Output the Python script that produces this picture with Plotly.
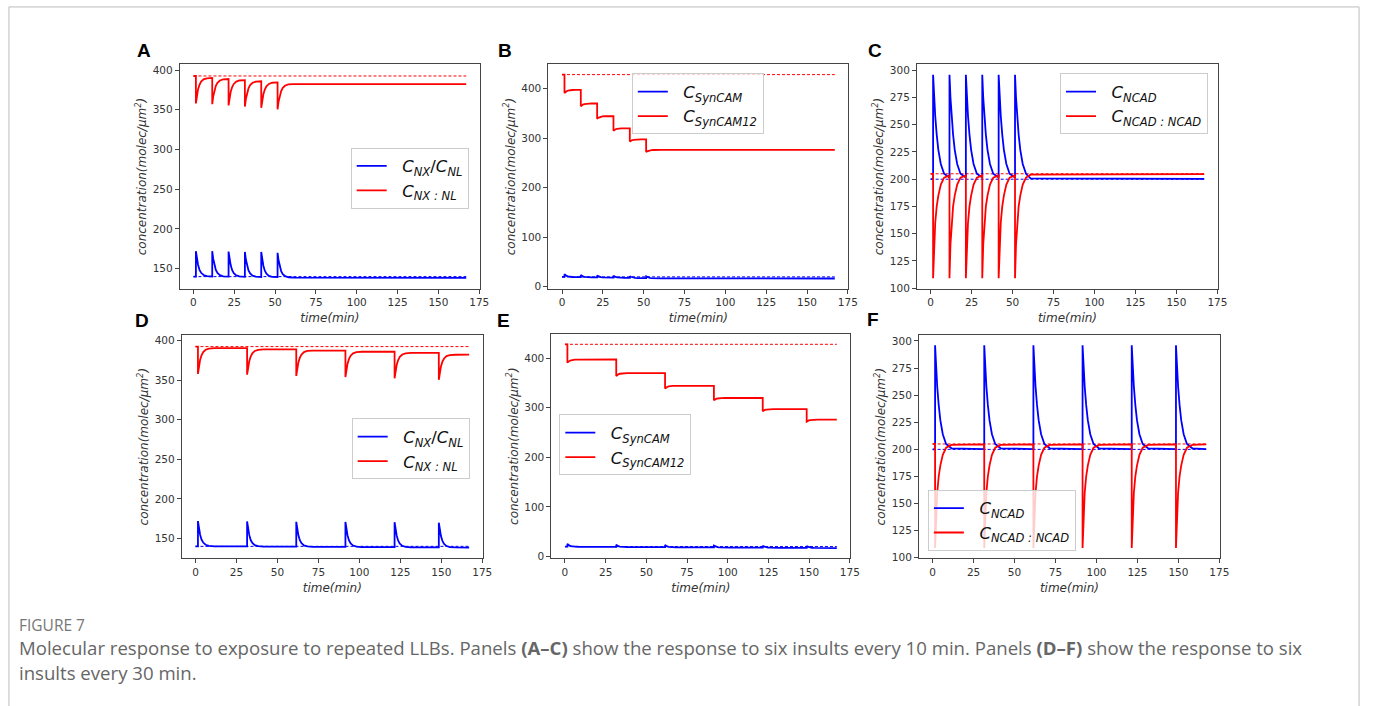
import plotly.graph_objects as go

W, H = 1375, 706

# ---------------- data ----------------
# time grid, top row (insults every 10 min)
t_top = [0,
         1.5, 1.5, 2.1, 2.8, 3.7, 4.7, 6.2, 8.2,
         11.5, 11.5, 12.1, 12.8, 13.7, 14.7, 16.2, 18.2,
         21.5, 21.5, 22.1, 22.8, 23.7, 24.7, 26.2, 28.2,
         31.5, 31.5, 32.1, 32.8, 33.7, 34.7, 36.2, 38.2,
         41.5, 41.5, 42.1, 42.8, 43.7, 44.7, 46.2, 48.2,
         51.5, 51.5, 52.1, 52.8, 53.7, 54.7, 56.2, 58.2, 61, 167]

# time grid, bottom row (insults every 30 min)
t_bot = [0,
         1.5, 1.5, 2.1, 2.8, 3.7, 4.7, 6.2, 8.2, 11.5,
         31.5, 31.5, 32.1, 32.8, 33.7, 34.7, 36.2, 38.2, 41.5,
         61.5, 61.5, 62.1, 62.8, 63.7, 64.7, 66.2, 68.2, 71.5,
         91.5, 91.5, 92.1, 92.8, 93.7, 94.7, 96.2, 98.2, 101.5,
         121.5, 121.5, 122.1, 122.8, 123.7, 124.7, 126.2, 128.2, 131.5,
         148.5, 148.5, 149.1, 149.8, 150.7, 151.7, 153.2, 155.2, 158.5, 167]

a_blue = [140,
          140, 172, 162.5, 155, 148.5, 144.8, 142, 140.6,
          140.2, 172, 162.5, 155, 148.5, 144.6, 141.8, 140.4,
          140, 171.5, 162, 154.5, 148, 144.3, 141.5, 140.2,
          139.8, 171, 161.5, 154, 147.7, 144, 141.2, 140,
          139.6, 171, 161.3, 153.8, 147.5, 143.8, 141, 139.8,
          139.5, 170, 160.5, 153, 147, 143.2, 140.5, 139.2, 138.7, 138.5]
a_red = [392.5,
         392.5, 358, 368, 375.5, 381.5, 385.5, 388.3, 389.6,
         390, 357, 366.5, 374, 380, 384, 386.8, 388.2,
         388.6, 355.5, 365, 372.5, 378.5, 382.5, 385.4, 386.8,
         387.2, 354, 363.5, 371, 377, 381, 384, 385.5,
         385.8, 352.5, 362, 369.5, 375.5, 379.5, 382.5, 384,
         384.4, 350.5, 360, 367.5, 373.5, 377.5, 380.5, 381.8, 382.2, 382.3]

b_blue = [20,
          20, 25.5, 23.5, 22, 21, 20.3, 19.8, 19.6,
          19.6, 24, 22.3, 21, 20.2, 19.6, 19.2, 19,
          19, 23, 21.5, 20.3, 19.5, 19, 18.7, 18.5,
          18.5, 22.5, 21, 19.8, 19, 18.5, 18.2, 18,
          18, 21.5, 20.2, 19.2, 18.5, 18, 17.7, 17.5,
          17.5, 21, 19.8, 18.8, 18, 17.5, 17.2, 17, 16.9, 16.8]
b_red = [428,
         428, 391, 393, 394.5, 395.8, 396.5, 397, 397.2,
         397.3, 364, 366, 367.5, 368.6, 369.2, 369.6, 369.8,
         369.8, 339, 340.8, 342, 343, 343.6, 344, 344.1,
         344.1, 315, 316.6, 317.8, 318.7, 319.3, 319.6, 319.7,
         319.7, 293, 294.5, 295.6, 296.4, 296.9, 297.2, 297.3,
         297.3, 272, 273.4, 274.4, 275.2, 275.7, 276, 276.1, 276.2, 276.2]

c_blue = [200,
          200, 296, 275, 258, 241, 227, 214, 205,
          201.5, 296, 275, 258, 241, 227, 214, 205,
          201.5, 296, 275, 258, 241, 227, 214, 205,
          201.5, 296, 275, 258, 241, 227, 214, 205,
          201.5, 296, 275, 258, 241, 227, 214, 205,
          201.5, 296, 275, 258, 241, 227, 214, 205, 200.8, 200.3]
c_red = [205,
         205, 109, 140, 160, 175, 185, 195, 201.5,
         203.5, 109, 140, 160, 175, 185, 195, 201.5,
         203.5, 109, 140, 160, 175, 185, 195, 201.5,
         203.5, 109, 140, 160, 175, 185, 195, 201.5,
         203.5, 109, 140, 160, 175, 185, 195, 201.5,
         203.5, 109, 140, 160, 175, 185, 195, 201.5, 204.2, 204.7]

d_blue = [140,
          140, 172, 162.5, 155, 148.5, 144.8, 142, 140.6, 140,
          139.9, 171.5, 162, 154.5, 148, 144.4, 141.6, 140.3, 139.7,
          139.6, 171, 161.5, 154, 147.7, 144, 141.2, 140, 139.4,
          139.3, 170.8, 161.3, 153.8, 147.5, 143.8, 141, 139.7, 139.1,
          139, 170.5, 161, 153.5, 147.2, 143.5, 140.7, 139.4, 138.8,
          138.8, 170, 160.5, 153, 147, 143.2, 140.4, 139.1, 138.6, 138.5]
d_red = [392.5,
         392.5, 358, 368, 375.5, 381.5, 385.5, 388.5, 390, 390.6,
         390.6, 357, 366.5, 374, 380, 384, 387, 388.4, 389,
         389, 355.5, 365, 372.5, 378.5, 382.5, 385.5, 387, 387.5,
         387.5, 354, 363.5, 371, 377, 381, 384, 385.5, 386,
         386, 352.5, 362, 369.5, 375.5, 379.5, 382.5, 384, 384.6,
         384.6, 350.5, 360, 367.5, 373.5, 377.5, 380.5, 381.8, 382.2, 382.3]

e_blue = [20,
          20, 25.5, 23.5, 22, 21, 20.3, 19.8, 19.6, 19.5,
          19.5, 23.5, 22, 20.8, 20, 19.5, 19.2, 19, 19,
          19, 23, 21.5, 20.3, 19.5, 19, 18.7, 18.5, 18.5,
          18.5, 22, 20.7, 19.6, 18.9, 18.4, 18.1, 18, 18,
          18, 21.5, 20.2, 19.2, 18.5, 18, 17.7, 17.5, 17.5,
          17.5, 21, 19.8, 18.8, 18, 17.5, 17.2, 17, 16.9, 16.8]
e_red = [428,
         428, 391, 393, 394.5, 395.8, 396.5, 397, 397.2, 397.3,
         397.3, 364, 366, 367.5, 368.6, 369.2, 369.6, 369.8, 369.8,
         369.8, 339, 340.8, 342, 343, 343.6, 344, 344.1, 344.1,
         344.1, 315, 316.6, 317.8, 318.7, 319.3, 319.6, 319.7, 319.7,
         319.7, 293, 294.5, 295.6, 296.4, 296.9, 297.2, 297.3, 297.3,
         297.3, 272, 273.4, 274.4, 275.2, 275.7, 276, 276.1, 276.2, 276.2]

f_blue = [200,
          200, 296, 275, 258, 241, 227, 214, 205, 201,
          200.3, 296, 275, 258, 241, 227, 214, 205, 201,
          200.3, 296, 275, 258, 241, 227, 214, 205, 201,
          200.3, 296, 275, 258, 241, 227, 214, 205, 201,
          200.3, 296, 275, 258, 241, 227, 214, 205, 201,
          200.3, 296, 275, 258, 241, 227, 214, 205, 201, 200.3]
f_red = [205,
         205, 109, 140, 160, 175, 185, 195, 201.5, 204.2,
         204.7, 109, 140, 160, 175, 185, 195, 201.5, 204.2,
         204.7, 109, 140, 160, 175, 185, 195, 201.5, 204.2,
         204.7, 109, 140, 160, 175, 185, 195, 201.5, 204.2,
         204.7, 109, 140, 160, 175, 185, 195, 201.5, 204.2,
         204.7, 109, 140, 160, 175, 185, 195, 201.5, 204.2, 204.7]

# dashed initial-value reference levels [blue, red]
ref_nx = [140, 392.5]
ref_syncam = [20, 428]
ref_ncad = [200, 205]
ref_span = [0, 167]

# tick labels
x_ticks = [0, 25, 50, 75, 100, 125, 150, 175]
y_ticks_nx = [150, 200, 250, 300, 350, 400]
y_ticks_syncam = [0, 100, 200, 300, 400]
y_ticks_ncad = [100, 125, 150, 175, 200, 225, 250, 275, 300]

SP = "&nbsp;&nbsp;"
names_nx = [SP + "<i>C<sub>NX</sub></i>/<i>C<sub>NL</sub></i>", SP + "<i>C<sub>NX : NL</sub></i>"]
names_syncam = [SP + "<i>C<sub>SynCAM</sub></i>", SP + "<i>C<sub>SynCAM12</sub></i>"]
names_ncad = [SP + "<i>C<sub>NCAD</sub></i>", SP + "<i>C<sub>NCAD : NCAD</sub></i>"]

# ---------------- layout spec (pixels) ----------------
panels = [
    dict(letter="A", t=t_top, blue=a_blue, red=a_red, ref=ref_nx, names=names_nx,
         yr=[125, 407], yt=y_ticks_nx, box=(181, 483, 64, 290), leg=(353, 148), lab=(145, 50)),
    dict(letter="B", t=t_top, blue=b_blue, red=b_red, ref=ref_syncam, names=names_syncam,
         yr=[-3.5, 448.5], yt=y_ticks_syncam, box=(552, 854, 64, 290), leg=(636, 73), lab=(508, 50)),
    dict(letter="C", t=t_top, blue=c_blue, red=c_red, ref=ref_ncad, names=names_ncad,
         yr=[99.6, 305.4], yt=y_ticks_ncad, box=(923, 1226, 64, 290), leg=(1067, 73), lab=(881, 50)),
    dict(letter="D", t=t_bot, blue=d_blue, red=d_red, ref=ref_nx, names=names_nx,
         yr=[125, 407], yt=y_ticks_nx, box=(183, 486, 337, 562), leg=(354, 421), lab=(143, 322)),
    dict(letter="E", t=t_bot, blue=e_blue, red=e_red, ref=ref_syncam, names=names_syncam,
         yr=[-3.5, 448.5], yt=y_ticks_syncam, box=(555, 856, 336, 562), leg=(563, 417), lab=(507, 322)),
    dict(letter="F", t=t_bot, blue=f_blue, red=f_red, ref=ref_ncad, names=names_ncad,
         yr=[99.6, 305.4], yt=y_ticks_ncad, box=(925, 1228, 337, 562), leg=(934, 493), lab=(879, 321)),
]

BLUE = "#0000ff"
RED = "#ff0000"
AX = "#444444"
TICKFONT = dict(family="DejaVu Sans", size=10.5, color="#333333")
TITLEFONT = dict(family="DejaVu Sans", size=12, color="#333333")

fig = go.Figure()
layout = dict(width=W, height=H, margin=dict(l=0, r=0, t=0, b=0),
              paper_bgcolor="white", plot_bgcolor="white", showlegend=True,
              annotations=[], shapes=[])

for i, p in enumerate(panels, start=1):
    xa = "x" if i == 1 else f"x{i}"
    ya = "y" if i == 1 else f"y{i}"
    lg = "legend" if i == 1 else f"legend{i}"
    # dashed reference lines
    fig.add_trace(go.Scatter(x=ref_span, y=[p["ref"][1]] * 2, mode="lines", xaxis=xa, yaxis=ya,
                             line=dict(color=RED, width=1, dash="3px,2px"), showlegend=False,
                             hoverinfo="skip"))
    fig.add_trace(go.Scatter(x=ref_span, y=[p["ref"][0]] * 2, mode="lines", xaxis=xa, yaxis=ya,
                             line=dict(color=BLUE, width=1, dash="3px,2px"), showlegend=False,
                             hoverinfo="skip"))
    fig.add_trace(go.Scatter(x=p["t"], y=p["blue"], mode="lines", xaxis=xa, yaxis=ya,
                             name=p["names"][0], legend=lg, line=dict(color=BLUE, width=1.8)))
    fig.add_trace(go.Scatter(x=p["t"], y=p["red"], mode="lines", xaxis=xa, yaxis=ya,
                             name=p["names"][1], legend=lg, line=dict(color=RED, width=1.8)))

    x0, x1, y0, y1 = p["box"]
    common = dict(showline=True, mirror=True, linecolor=AX, linewidth=1, showgrid=False,
                  zeroline=False, ticks="outside", ticklen=4, tickcolor=AX, tickfont=TICKFONT)
    xkey = "xaxis" if i == 1 else f"xaxis{i}"
    ykey = "yaxis" if i == 1 else f"yaxis{i}"
    layout[xkey] = dict(domain=[x0 / W, x1 / W], anchor=ya, range=[-8.35, 175.35],
                        tickvals=x_ticks, title=dict(text="<i>time(min)</i>", font=TITLEFONT, standoff=6),
                        **common)
    layout[ykey] = dict(domain=[1 - y1 / H, 1 - y0 / H], anchor=xa, range=p["yr"],
                        tickvals=p["yt"],
                        title=dict(text="<i>concentration(molec/μm<sup>2</sup>)</i>", font=TITLEFONT, standoff=3),
                        **common)
    layout[lg] = dict(x=p["leg"][0] / W, y=1 - p["leg"][1] / H, xanchor="left", yanchor="top",
                      bgcolor="rgba(255,255,255,0.8)", bordercolor="#cccccc", borderwidth=1,
                      font=dict(family="DejaVu Sans", size=16.5, color="#111111"),
                      tracegroupgap=0, itemwidth=30)
    layout["annotations"].append(dict(text="<b>%s</b>" % p["letter"], x=p["lab"][0] / W, y=1 - p["lab"][1] / H,
                                      xref="paper", yref="paper", showarrow=False, xanchor="center",
                                      yanchor="middle",
                                      font=dict(family="Liberation Sans", size=19, color="black")))

# card border
layout["shapes"].append(dict(type="rect", xref="paper", yref="paper", x0=9 / W, x1=1368 / W,
                             y0=-0.05, y1=1 - 6 / H, line=dict(color="#bbbbbb", width=1), layer="below"))

# caption
cap_font = dict(family="Open Sans", size=18.6, color="#666666")
layout["annotations"].append(dict(text="FIGURE 7", x=17 / W, y=1 - 629 / H, xref="paper", yref="paper",
                                  showarrow=False, xanchor="left", yanchor="middle",
                                  font=dict(family="Open Sans", size=15.5, color="#777777")))
layout["annotations"].append(dict(
    text="Molecular response to exposure to repeated LLBs. Panels <b>(A–C)</b> show the response to six insults every 10 min. Panels <b>(D–F)</b> show the response to six",
    x=17 / W, y=1 - 652 / H, xref="paper", yref="paper", showarrow=False, xanchor="left", yanchor="middle",
    font=cap_font))
layout["annotations"].append(dict(
    text="insults every 30 min.",
    x=17 / W, y=1 - 677 / H, xref="paper", yref="paper", showarrow=False, xanchor="left", yanchor="middle",
    font=cap_font))

fig.update_layout(**layout)
fig.write_html("out.html")
